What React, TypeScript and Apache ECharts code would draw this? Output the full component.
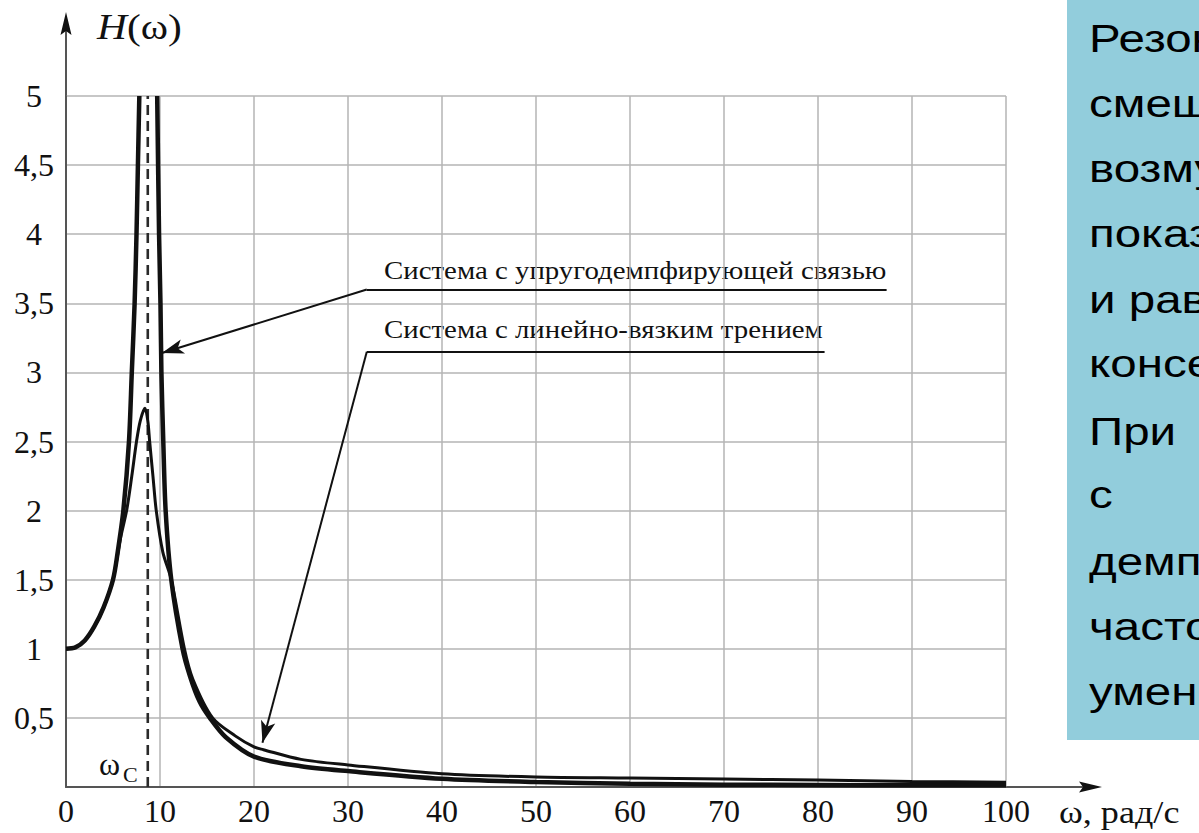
import React, { useEffect, useRef } from "react";
import * as echarts from "echarts";

// ---- Axis ranges / ticks ----
const X_MIN = 0;
const X_MAX = 100;
const X_STEP = 10;
const Y_MIN = 0;
const Y_MAX = 5;
const Y_STEP = 0.5;

// ---- Series: system with elastic-damping coupling (tall resonance peak) ----
const OMEGA_ELASTIC = [0, 1, 2, 3, 4, 5, 5.5, 6.1, 6.7, 7.0, 7.3, 7.5, 7.65, 7.8, 8.6, 9.7, 9.9, 10.05, 10.15, 10.35, 10.6, 11.2, 12.4, 13.2, 14.2, 15.3, 17, 20, 25, 30, 40, 50, 60, 70, 80, 90, 100];
const H_ELASTIC = [1.0, 1.01, 1.06, 1.16, 1.3, 1.5, 1.7, 2.0, 2.5, 3.0, 3.5, 4.0, 4.5, 5.0, null, 5.0, 4.0, 3.5, 3.0, 2.5, 2.0, 1.5, 1.0, 0.8, 0.62, 0.5, 0.36, 0.22, 0.15, 0.115, 0.06, 0.036, 0.024, 0.017, 0.015, 0.012, 0.012];

// ---- Series: system with linear viscous friction (low peak) ----
const OMEGA_VISCOUS = [0, 1, 2, 3, 4, 5, 5.8, 6.45, 7.0, 7.5, 7.9, 8.4, 8.7, 8.9, 9.25, 9.6, 10.3, 11.2, 12.6, 13.5, 15.6, 18, 20, 21, 25, 30, 40, 50, 60, 70, 80, 90, 100];
const H_VISCOUS = [1.0, 1.01, 1.06, 1.16, 1.3, 1.5, 1.8, 2.0, 2.25, 2.5, 2.65, 2.74, 2.65, 2.5, 2.25, 2.0, 1.7, 1.5, 1.0, 0.78, 0.5, 0.37, 0.29, 0.27, 0.2, 0.16, 0.096, 0.072, 0.065, 0.058, 0.05, 0.04, 0.035];

// ---- Resonance frequency marker ----
const OMEGA_C = 8.7;

// ---- Annotation leaders (data coordinates: [omega, H]) ----
const LEADER_ELASTIC_BEND = [32, 3.6];
const LEADER_ELASTIC_END = [87.3, 3.6];
const LEADER_ELASTIC_TIP = [10.2, 3.14];
const LEADER_VISCOUS_BEND = [32, 3.15];
const LEADER_VISCOUS_END = [80.7, 3.15];
const LEADER_VISCOUS_TIP = [20.9, 0.32];

// ---- Texts ----
const LABEL_ELASTIC = "Система с упругодемпфирующей связью";
const LABEL_VISCOUS = "Система с линейно-вязким трением";
const X_AXIS_TITLE = "ω, рад/с";
const BOX_LINES = ["Резон", "смещ", "возму", "показ", "и рав", "консе", "При", "с", "демп", "часто", "умен"];

const SERIF = "Liberation Serif";
const SANS = "Liberation Sans";

function zip(xs: number[], ys: (number | null)[]) {
  return xs.map((x, i) => [x, ys[i]]);
}

function fmtY(v: number) {
  if (v === 0) return "";
  return String(v).replace(".", ",");
}

export default function App() {
  const ref = useRef<HTMLDivElement>(null);

  useEffect(() => {
    document.body.style.margin = "0";
    document.body.style.overflow = "hidden";
    const chart = echarts.init(ref.current!, null, { renderer: "svg" });

    const boxBaselines = [52, 117, 182, 247, 313, 377, 445, 508, 575, 640, 705];

    const graphic: any[] = [
      {
        type: "rect",
        shape: { x: 1067, y: 0, width: 140, height: 740 },
        style: { fill: "#92CDDC" },
        silent: true,
      },
      ...BOX_LINES.map((t, i) => ({
        type: "text",
        x: 1089,
        y: boxBaselines[i] - 13,
        scaleX: 1.25,
        style: {
          text: t,
          x: 0,
          y: 0,
          fontFamily: SANS,
          fontSize: 38,
          fill: "#000",
          verticalAlign: "middle",
          align: "left",
        },
        silent: true,
      })),
      // y axis extension + arrow
      {
        type: "line",
        shape: { x1: 66, y1: 96, x2: 66, y2: 30 },
        style: { stroke: "#555", lineWidth: 2 },
        silent: true,
      },
      {
        type: "polygon",
        shape: { points: [[66, 12], [60.5, 35], [66, 31], [71.5, 35]] },
        style: { fill: "#111" },
        silent: true,
      },
      // x axis extension + arrow
      {
        type: "line",
        shape: { x1: 1006, y1: 787, x2: 1088, y2: 787 },
        style: { stroke: "#555", lineWidth: 2 },
        silent: true,
      },
      {
        type: "polygon",
        shape: { points: [[1102, 787], [1079, 781.5], [1083, 787], [1079, 792.5]] },
        style: { fill: "#111" },
        silent: true,
      },
      // H(ω)
      {
        type: "text",
        x: 97,
        y: 26,
        scaleX: 1.15,
        style: {
          text: "{i|H}{n|(ω)}",
          fontFamily: SERIF,
          fontSize: 36,
          fill: "#111",
          verticalAlign: "middle",
          rich: {
            i: { fontFamily: SERIF, fontSize: 36, fontStyle: "italic", fill: "#111" },
            n: { fontFamily: SERIF, fontSize: 36, fill: "#111" },
          },
        },
        silent: true,
      },
      // x axis title
      {
        type: "text",
        x: 1059,
        y: 812,
        scaleX: 1.13,
        style: {
          text: X_AXIS_TITLE,
          fontFamily: SERIF,
          fontSize: 32,
          fill: "#111",
          verticalAlign: "middle",
        },
        silent: true,
      },
      // ω_C label
      {
        type: "text",
        x: 99,
        y: 764,
        style: { text: "ω", fontFamily: SERIF, fontSize: 32, fill: "#111", verticalAlign: "middle" },
        silent: true,
      },
      {
        type: "text",
        x: 123,
        y: 774,
        style: { text: "C", fontFamily: SERIF, fontSize: 22, fill: "#111", verticalAlign: "middle" },
        silent: true,
      },
      // annotation labels
      {
        type: "text",
        x: 384,
        y: 270,
        scaleX: 1.11,
        style: { text: LABEL_ELASTIC, fontFamily: SERIF, fontSize: 26, fill: "#111", verticalAlign: "middle" },
        silent: true,
      },
      {
        type: "text",
        x: 384,
        y: 329,
        scaleX: 1.11,
        style: { text: LABEL_VISCOUS, fontFamily: SERIF, fontSize: 26, fill: "#111", verticalAlign: "middle" },
        silent: true,
      },
    ];

    const leaderStyle = { color: "#111", width: 2, type: "solid" as const };

    const option: any = {
      animation: false,
      backgroundColor: "#fff",
      grid: { left: 66, right: 193, top: 96, bottom: 46, containLabel: false },
      xAxis: {
        type: "value",
        min: X_MIN,
        max: X_MAX,
        interval: X_STEP,
        axisLine: { show: true, onZero: false, lineStyle: { color: "#555", width: 2 } },
        axisTick: { show: false },
        axisLabel: { fontFamily: SERIF, fontSize: 32, color: "#111", margin: 8 },
        splitLine: { show: true, lineStyle: { color: "#b4b4b4", width: 1.5 } },
      },
      yAxis: {
        type: "value",
        min: Y_MIN,
        max: Y_MAX,
        interval: Y_STEP,
        axisLine: { show: true, onZero: false, lineStyle: { color: "#555", width: 2 } },
        axisTick: { show: false },
        axisLabel: {
          fontFamily: SERIF,
          fontSize: 32,
          color: "#111",
          margin: 32,
          align: "center",
          formatter: fmtY,
        },
        splitLine: { show: true, lineStyle: { color: "#b4b4b4", width: 1.5 } },
      },
      series: [
        {
          name: "ωc",
          type: "line",
          data: [[OMEGA_C, Y_MIN], [OMEGA_C, Y_MAX]],
          symbol: "none",
          lineStyle: { color: "#2a2a2a", width: 2.6, type: [10, 6] },
          silent: true,
          z: 2,
          markLine: {
            silent: true,
            animation: false,
            symbolSize: [11, 22],
            label: { show: false },
            lineStyle: leaderStyle,
            data: [
              [
                { coord: LEADER_ELASTIC_BEND, symbol: "none" },
                { coord: LEADER_ELASTIC_END, symbol: "none" },
              ],
              [
                { coord: LEADER_ELASTIC_BEND, symbol: "none" },
                { coord: LEADER_ELASTIC_TIP, symbol: "arrow" },
              ],
              [
                { coord: LEADER_VISCOUS_BEND, symbol: "none" },
                { coord: LEADER_VISCOUS_END, symbol: "none" },
              ],
              [
                { coord: LEADER_VISCOUS_BEND, symbol: "none" },
                { coord: LEADER_VISCOUS_TIP, symbol: "arrow" },
              ],
            ],
          },
        },
        {
          name: "Система с упругодемпфирующей связью",
          type: "line",
          data: zip(OMEGA_ELASTIC, H_ELASTIC),
          symbol: "none",
          smooth: 0.3,
          connectNulls: false,
          lineStyle: { color: "#111", width: 4.5 },
          silent: true,
          z: 3,
        },
        {
          name: "Система с линейно-вязким трением",
          type: "line",
          data: zip(OMEGA_VISCOUS, H_VISCOUS),
          symbol: "none",
          smooth: 0.3,
          lineStyle: { color: "#111", width: 3 },
          silent: true,
          z: 4,
        },
      ],
      graphic,
    };

    chart.setOption(option);
    return () => chart.dispose();
  }, []);

  return <div ref={ref} style={{ width: 1199, height: 833 }} />;
}
